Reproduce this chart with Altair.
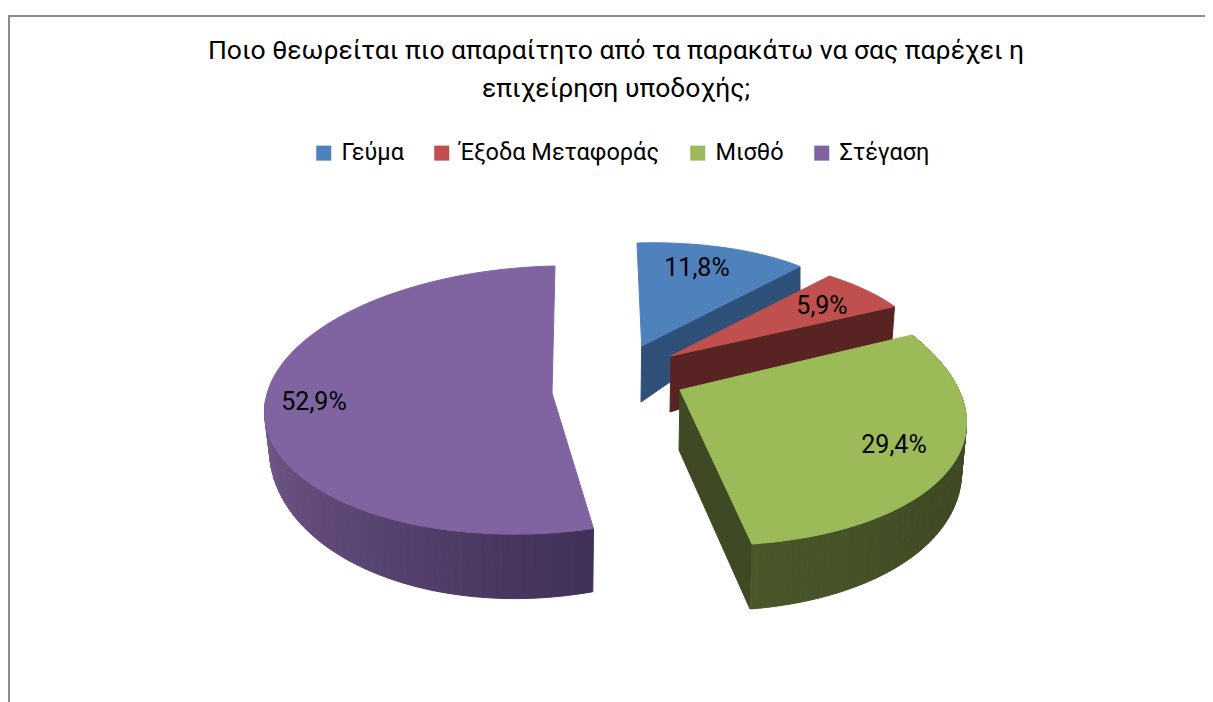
import math
import altair as alt
import pandas as pd

TITLE = ["Ποιο θεωρείται πιο απαραίτητο από τα παρακάτω να σας παρέχει η", "επιχείρηση υποδοχής;"]
CATEGORIES = ["Γεύμα", "Έξοδα Μεταφοράς", "Μισθό", "Στέγαση"]
VALUES = [2, 1, 5, 9]
LABELS = ["11,8%", "5,9%", "29,4%", "52,9%"]
TOP_COLORS = ["#4f81bd", "#c0504d", "#9bbb59", "#8064a2"]
FONT = "Roboto"
TOTAL = sum(VALUES)

# projection of each exploded slice: apex, rim ends, ellipse radii, y shear
GEOM = [
    dict(apex=(641.7, 346), p1=(637, 243), p2=(800, 266.5), rx=300, ry=110, c=0),
    dict(apex=(671, 356), p1=(829.5, 276), p2=(894.5, 306.5), rx=300, ry=110, c=0),
    dict(apex=(680, 390), p1=(912, 335), p2=(752, 544), rx=326, ry=140, c=18),
    dict(apex=(552, 393), p1=(593.5, 528.5), p2=(555, 266), rx=284, ry=140, c=-10),
]
SIDE = {
    0: dict(color="#2f5078", a=(641, 402), b=(800, 292)),
    1: dict(color="#582322", a=(670, 412), b=(892, 340)),
    2: dict(color="#3f4a24", a=(679, 450), b=(750, 609)),
}
WALL = {
    2: dict(d0=50, y0=432, k=0.134, shades=["#3f4a24", "#3f4a24", "#4a5729"]),
    3: dict(d0=40, y0=423, k=0.22, shades=["#40305a", "#5b4672", "#75598f"]),
}
N = 90


def mix(hexes, u):
    pos = u * (len(hexes) - 1)
    i = min(int(pos), len(hexes) - 2)
    f = pos - i
    a = [int(hexes[i][k:k + 2], 16) for k in (1, 3, 5)]
    b = [int(hexes[i + 1][k:k + 2], 16) for k in (1, 3, 5)]
    return "#%02x%02x%02x" % tuple(round(a[k] + (b[k] - a[k]) * f) for k in range(3))


def rim(g, t1, t2):
    def raw(t):
        return (g["apex"][0] + g["rx"] * math.sin(t),
                g["apex"][1] - g["ry"] * math.cos(t) + g["c"] * math.sin(t))
    r1, r2 = raw(t1), raw(t2)
    c1 = (g["p1"][0] - r1[0], g["p1"][1] - r1[1])
    c2 = (g["p2"][0] - r2[0], g["p2"][1] - r2[1])
    pts = []
    for j in range(N + 1):
        u = j / N
        p = raw(t1 + (t2 - t1) * u)
        pts.append((p[0] + (1 - u) * c1[0] + u * c2[0], p[1] + (1 - u) * c1[1] + u * c2[1]))
    return pts


rows = []
pid = 0


def poly(points, color):
    global pid
    for i, (x, y) in enumerate(list(points) + [points[0]]):
        rows.append(dict(pid=pid, i=i, x=x, y=y, color=color))
    pid += 1


cum = 0
for k, v in enumerate(VALUES):
    g = GEOM[k]
    t1 = 2 * math.pi * cum / TOTAL
    t2 = 2 * math.pi * (cum + v) / TOTAL
    cum += v
    pts = rim(g, t1, t2)
    if k in SIDE:
        s = SIDE[k]
        poly([g["apex"], g["p2"], s["b"], s["a"]], s["color"])
    if k in WALL:
        w = WALL[k]
        def low(p):
            return (p[0] + 0.017 * (g["apex"][0] - p[0]), p[1] + max(18, w["d0"] + w["k"] * (p[1] - w["y0"])))
        m = int(N * (0.55 if k == 3 else 1.0))
        for j in range(0, m if k == 3 else N):
            a, b = pts[j], pts[j + 1]
            u = j / m
            poly([a, b, low(b), low(a)], mix(w["shades"], u))
    poly([g["apex"]] + pts, TOP_COLORS[k])

poly_df = pd.DataFrame(rows)
frame_df = pd.DataFrame(dict(x=[1205, 9, 9], y=[16, 16, 702], i=[0, 1, 2]))
label_df = pd.DataFrame(dict(x=[697, 822, 894, 314], y=[268, 306, 445, 402], t=LABELS))
legend_df = pd.DataFrame(dict(cat=CATEGORIES, x=[400] * 4, y=[400] * 4))

X = alt.X("x:Q", axis=None, scale=alt.Scale(domain=[8, 1205], nice=False, zero=False))
Y = alt.Y("y:Q", axis=None, scale=alt.Scale(domain=[702, 8], nice=False, zero=False))

frame = alt.Chart(frame_df).mark_line(color="#8c8c8c", strokeWidth=2).encode(x=X, y=Y, order="i:Q")
polys = alt.Chart(poly_df).mark_line(strokeWidth=1, interpolate="linear").encode(
    x=X, y=Y, order="i:Q", detail="pid:N",
    fill=alt.Fill("color:N", scale=None),
    stroke=alt.Stroke("color:N", scale=None),
)
labels = alt.Chart(label_df).mark_text(font=FONT, fontSize=25, color="black").encode(x=X, y=Y, text="t:N")
legend_layer = alt.Chart(legend_df).mark_square(opacity=0).encode(
    x=X, y=Y,
    color=alt.Color("cat:N", scale=alt.Scale(domain=CATEGORIES, range=TOP_COLORS), sort=CATEGORIES,
                    legend=alt.Legend(orient="none", legendX=304, legendY=133, direction="horizontal",
                                      columns=4, title=None, symbolType="square", symbolSize=225,
                                      symbolOpacity=1, symbolStrokeWidth=0, labelFont=FONT, labelFontSize=23.5,
                                      labelColor="black", labelOffset=6, columnPadding=26, labelLimit=400)),
)

chart = alt.layer(frame, polys, labels, legend_layer).properties(
    width=1197, height=694,
    padding=0,
    autosize=alt.AutoSizeParams(type="none"),
    title=alt.TitleParams(text=TITLE, font=FONT, fontSize=26.5, fontWeight="normal", color="black",
                          anchor="middle", frame="group", dy=98, dx=9.5, lineHeight=38),
).configure_view(stroke=None)

chart.save("out.html", embed_options={"renderer": "svg", "actions": False})
